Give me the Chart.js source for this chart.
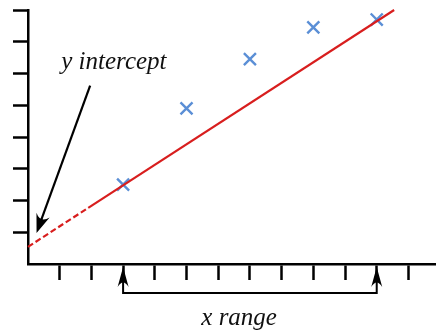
<!DOCTYPE html>
<html>
<head>
<meta charset="utf-8">
<script src="https://cdn.jsdelivr.net/npm/chart.js@4/dist/chart.umd.min.js"></script>
<style>
  html, body { margin: 0; padding: 0; background: #fff; }
  canvas { display: block; }
</style>
</head>
<body>
<canvas id="fitChart" width="436" height="336"></canvas>
<script>
// data (units = tick spacing)
const pointX = [3, 5, 7, 9, 11];
const pointY = [2.5, 4.9, 6.45, 7.45, 7.7];
const fitX = [0, 1.9, 11.55];
const fitY = [0.54, 1.77, 8.0];
const xRangeFrom = 3;
const xRangeTo = 11;
const interceptLabel = "y intercept";
const rangeLabel = "x range";

const ink = "#000";
const fitRed = "#d81e1e";
const crossBlue = "#5b8fd6";

// notched arrow head, tip at (x, y), pointing along angle
function arrowHead(ctx, x, y, angle, len, half) {
    ctx.save();
    ctx.translate(x, y);
    ctx.rotate(angle);
    ctx.beginPath();
    ctx.moveTo(0, 0);
    ctx.lineTo(-len, -half);
    ctx.quadraticCurveTo(-len * 0.55, 0, -len, half);
    ctx.closePath();
    ctx.fillStyle = ink;
    ctx.fill();
    ctx.restore();
}

const notes = {
    id: "notes",
    afterDraw(chart) {
        const ctx = chart.ctx;
        const xs = chart.scales.x;
        const ys = chart.scales.y;
        const bottom = chart.chartArea.bottom;

        ctx.save();
        ctx.fillStyle = "#111";
        ctx.textAlign = "center";
        ctx.textBaseline = "middle";
        ctx.font = "italic 25px 'Liberation Serif', serif";
        ctx.fillText(interceptLabel, xs.getPixelForValue(2.71), ys.getPixelForValue(6.34));
        ctx.fillText(rangeLabel, xs.getPixelForValue(6.66), bottom + 54);

        // arrow to the y intercept
        const x0 = xs.getPixelForValue(1.96), y0 = ys.getPixelForValue(5.62);
        const x1 = xs.getPixelForValue(0.27), y1 = ys.getPixelForValue(0.98);
        const ang = Math.atan2(y1 - y0, x1 - x0);
        ctx.strokeStyle = ink;
        ctx.lineWidth = 2.2;
        ctx.beginPath();
        ctx.moveTo(x0, y0);
        ctx.lineTo(x1 - Math.cos(ang) * 10, y1 - Math.sin(ang) * 10);
        ctx.stroke();
        arrowHead(ctx, x1, y1, ang, 19, 7);

        // x range bracket
        const ra = xs.getPixelForValue(xRangeFrom);
        const rb = xs.getPixelForValue(xRangeTo);
        const base = bottom + 29;
        ctx.lineWidth = 2;
        ctx.beginPath();
        ctx.moveTo(ra, bottom + 14);
        ctx.lineTo(ra, base);
        ctx.lineTo(rb, base);
        ctx.lineTo(rb, bottom + 14);
        ctx.stroke();
        arrowHead(ctx, ra, bottom + 3, -Math.PI / 2, 20, 5.5);
        arrowHead(ctx, rb, bottom + 3, -Math.PI / 2, 20, 5.5);
        ctx.restore();
    },
};

const tickInk = (c) => (c.tick && c.tick.value === 0 ? "rgba(0,0,0,0)" : ink);

new Chart(document.getElementById("fitChart"), {
    type: "scatter",
    data: {
        datasets: [
            {
                type: "line",
                data: fitX.map((x, i) => ({ x: x, y: fitY[i] })),
                borderColor: fitRed,
                borderWidth: 2.2,
                pointRadius: 0,
                fill: false,
                clip: false,
                segment: {
                    borderDash: (c) => (c.p0DataIndex === 0 ? [6, 3] : undefined),
                },
            },
            {
                data: pointX.map((x, i) => ({ x: x, y: pointY[i] })),
                pointStyle: "crossRot",
                pointRadius: 8.5,
                borderColor: crossBlue,
                borderWidth: 2.4,
                clip: false,
            },
        ],
    },
    options: {
        responsive: false,
        animation: false,
        layout: {
            autoPadding: false,
            padding: { left: 13, top: 10, right: 0, bottom: 56 },
        },
        scales: {
            x: {
                type: "linear",
                min: 0,
                max: 12.87,
                ticks: { display: false, stepSize: 1, includeBounds: false },
                grid: {
                    drawOnChartArea: false,
                    tickLength: 16,
                    tickWidth: 2.5,
                    tickColor: tickInk,
                },
                border: { color: ink, width: 2.5 },
            },
            y: {
                type: "linear",
                min: 0,
                max: 8,
                ticks: { display: false, stepSize: 1 },
                grid: {
                    drawOnChartArea: false,
                    tickLength: 15,
                    tickWidth: 2.5,
                    tickColor: tickInk,
                },
                border: { color: ink, width: 2.5 },
            },
        },
        plugins: {
            legend: { display: false },
            tooltip: { enabled: false },
        },
    },
    plugins: [notes],
});
</script>
</body>
</html>
